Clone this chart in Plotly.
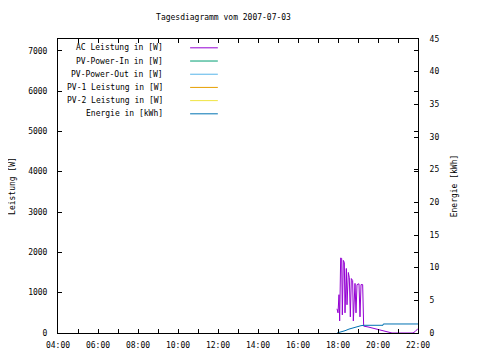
import plotly.graph_objects as go

DAY = "2007-07-03 "

# AC Leistung in [W]
ac_times = ["17:57", "18:00", "18:03", "18:05", "18:08", "18:11", "18:13", "18:16", "18:19",
            "18:21", "18:25", "18:27", "18:31", "18:34", "18:37", "18:40", "18:44", "18:46",
            "18:51", "18:54", "18:57", "19:03", "19:06", "19:09", "19:14",
            "19:17", "19:30", "19:45", "20:00", "20:15", "20:30", "20:42", "21:45", "21:52", "22:00"]
ac_values = [600, 500, 950, 300, 1860, 1850, 450, 1800, 1750,
             500, 1600, 700, 1500, 1370, 400, 1350, 1300, 300,
             1230, 500, 1200, 1220, 400, 1200, 1200,
             170, 150, 120, 90, 60, 30, 0, 0, 40, 110]

# Energie in [kWh]
en_times = ["17:57", "18:09", "18:21", "18:33", "18:45", "18:57", "19:09", "19:18", "20:15", "20:16", "22:00"]
en_values = [0, 0.15, 0.35, 0.6, 0.8, 0.98, 1.12, 1.18, 1.18, 1.38, 1.38]

# Series without data on this day
pv_in_times, pv_in_values = [], []
pv_out_times, pv_out_values = [], []
pv1_times, pv1_values = [], []
pv2_times, pv2_values = [], []

legend_names = ["AC Leistung in [W]", "PV-Power-In in [W]", "PV-Power-Out in [W]",
                "PV-1 Leistung in [W]", "PV-2 Leistung in [W]", "Energie in [kWh]"]
colors = ["#9400d3", "#009e73", "#56b4e9", "#e69f00", "#f0e442", "#0072b2"]

x_ticks = ["04:00", "06:00", "08:00", "10:00", "12:00", "14:00", "16:00", "18:00", "20:00", "22:00"]

FONT = dict(family="DejaVu Sans Mono", size=8, color="black")

def ts(lst):
    return [DAY + t for t in lst]

fig = go.Figure()
series = [
    (ac_times, ac_values, "y"),
    (pv_in_times, pv_in_values, "y"),
    (pv_out_times, pv_out_values, "y"),
    (pv1_times, pv1_values, "y"),
    (pv2_times, pv2_values, "y"),
    (en_times, en_values, "y2"),
]
for (t, v, ax), name, c in zip(series, legend_names, colors):
    fig.add_trace(go.Scatter(x=ts(t), y=v, name=name, mode="lines", yaxis=ax,
                             line=dict(color=c, width=1), showlegend=False))

# legend drawn gnuplot-style: right-aligned text, then line sample
row0 = 0.970
step = 0.0449
for i, (name, c) in enumerate(zip(legend_names, colors)):
    y = row0 - i * step
    fig.add_annotation(x=0.297, y=y, xref="paper", yref="paper", text=name,
                       showarrow=False, xanchor="right", yanchor="middle", font=FONT)
    fig.add_shape(type="line", xref="paper", yref="paper", x0=0.367, x1=0.444, y0=y, y1=y,
                  line=dict(color=c, width=1))

W, H = 472, 352
fig.update_layout(
    width=W, height=H,
    margin=dict(l=50, r=62, t=31, b=27, autoexpand=False),
    paper_bgcolor="white", plot_bgcolor="white",
    font=FONT,
    title=dict(text="Tagesdiagramm vom 2007-07-03", x=215.5 / W, xref="container", xanchor="center",
               y=1 - 9.5 / H, yref="container", yanchor="middle", font=FONT, automargin=False),
    xaxis=dict(
        type="date", range=[DAY + "04:00", DAY + "22:00"], automargin=False,
        tickvals=ts(x_ticks), ticktext=x_ticks,
        ticks="inside", ticklen=4, tickcolor="black",
        minor=dict(ticks="inside", ticklen=4, dtick=3600000, tickcolor="black"),
        showline=True, linecolor="black", linewidth=1, mirror="ticks",
        showgrid=False, zeroline=False, tickfont=FONT, ticklabelstandoff=4,
    ),
    yaxis=dict(
        range=[0, 7290], tickvals=[0, 1000, 2000, 3000, 4000, 5000, 6000, 7000], automargin=False,
        ticks="inside", ticklen=4, tickcolor="black",
        showline=True, linecolor="black", linewidth=1, mirror="ticks",
        showgrid=False, zeroline=False, tickfont=FONT, ticklabelstandoff=8,
        title=dict(text="Leistung [W]", font=FONT, standoff=14),
    ),
    yaxis2=dict(
        range=[0, 45], overlaying="y", side="right", automargin=False,
        tickvals=[0, 5, 10, 15, 20, 25, 30, 35, 40, 45],
        ticks="inside", ticklen=4, tickcolor="black",
        showline=True, linecolor="black", linewidth=1,
        showgrid=False, zeroline=False, tickfont=FONT, ticklabelstandoff=9,
        title=dict(text="Energie [kWh]", font=FONT, standoff=12),
    ),
)

fig.write_html("out.html")
